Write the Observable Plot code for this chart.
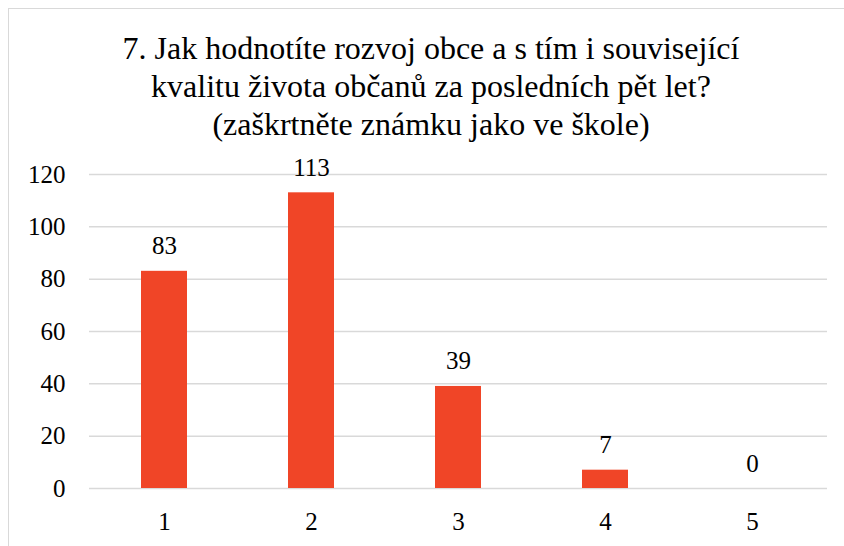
<!DOCTYPE html>
<html>
<head>
<meta charset="utf-8">
<script src="https://cdn.jsdelivr.net/npm/d3@7"></script>
<script src="https://cdn.jsdelivr.net/npm/@observablehq/plot@0.6"></script>
<style>
  html, body { margin: 0; padding: 0; background: #fff; }
  #wrap { position: relative; width: 844px; height: 546px; overflow: hidden; }
  #frame { position: absolute; left: 8px; top: 8px; width: 900px; height: 600px; border: 1.5px solid #d9d9d9; box-sizing: border-box; }
  #title { position: absolute; left: 0; top: 0; width: 862px; text-align: center;
    font-family: "Liberation Serif", "Liberation Sans", sans-serif; font-size: 32px; line-height: 38px;
    color: #000; padding-top: 29px; }
  #chart { position: absolute; left: 0; top: 0; }
</style>
</head>
<body>
<div id="wrap">
  <div id="frame"></div>
  <div id="chart"></div>
  <div id="title">7. Jak hodnotíte rozvoj obce a s tím i související<br>kvalitu života občanů za posledních pět let?<br>(zaškrtněte známku jako ve škole)</div>
</div>
<script>
const categories = ["1", "2", "3", "4", "5"];
const values = [83, 113, 39, 7, 0];
const yTicks = [0, 20, 40, 60, 80, 100, 120];

const data = categories.map((c, i) => ({cat: c, value: values[i]}));
const font = "'Liberation Serif', 'Liberation Sans', sans-serif";

const chart = Plot.plot({
  width: 844,
  height: 546,
  marginLeft: 89,
  marginRight: 17,
  marginTop: 174,
  marginBottom: 58,
  style: {fontFamily: font, fontSize: "25px", color: "#000", background: "transparent"},
  x: {domain: categories, paddingInner: 0.69, paddingOuter: 0.345, label: null, tickSize: 0, tickPadding: 24},
  y: {domain: [0, 120], ticks: yTicks, label: null, tickSize: 0, tickPadding: 24},
  marks: [
    Plot.ruleY(yTicks, {stroke: "#d9d9d9", strokeWidth: 1.5}),
    Plot.barY(data, {x: "cat", y: "value", fill: "#f04527"}),
    Plot.text(data, {x: "cat", y: "value", text: d => String(d.value), lineAnchor: "bottom", dy: -17, fill: "#000", fontSize: 25, fontFamily: font})
  ]
});
document.getElementById("chart").appendChild(chart);
</script>
</body>
</html>
